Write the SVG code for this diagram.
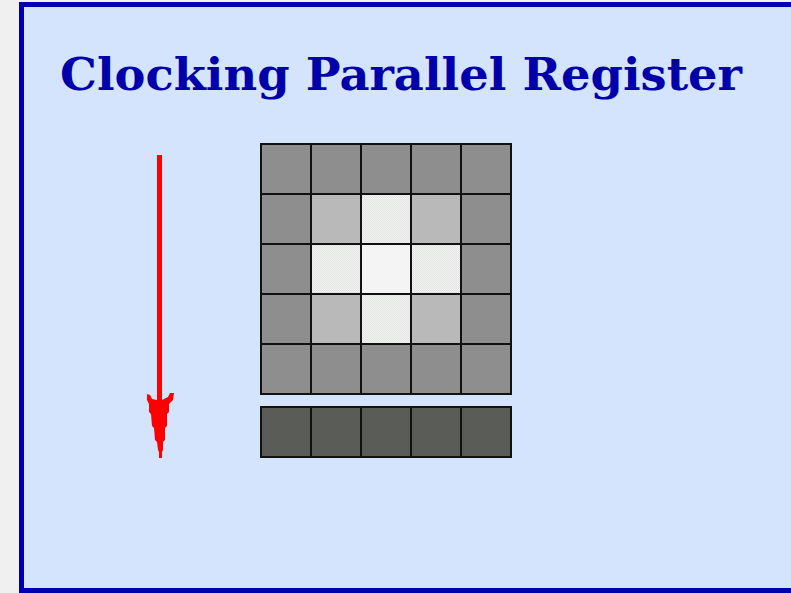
<svg xmlns="http://www.w3.org/2000/svg" width="791" height="593" viewBox="0 0 791 593">
<defs>
<style>
.cell{stroke:#111;stroke-width:2}
.o{fill:#8e8e8e}
.m{fill:#b9b9b9}
.x{fill:url(#dither)}
.c{fill:#f4f4f4}
.b{fill:#5a5c57}
.title{font-family:"DejaVu Serif","Liberation Serif",serif;font-weight:bold;font-size:45px;fill:#0000aa}
</style>
<pattern id="dither" width="2" height="2" patternUnits="userSpaceOnUse">
<rect width="2" height="2" fill="#f2f2f2"/>
<rect width="1" height="1" fill="#e2e4e2"/>
<rect x="1" y="1" width="1" height="1" fill="#e2e4e2"/>
</pattern>
</defs>
<rect width="791" height="593" fill="#f0f0f0"/>
<rect x="21.5" y="4.5" width="780" height="586" fill="#d4e4fc" stroke="#0000b0" stroke-width="5"/>
<g id="title"><text class="title" x="60" y="90" textLength="682" lengthAdjust="spacingAndGlyphs">Clocking Parallel Register</text></g>
<g id="register">
<rect class="cell o" x="261" y="144" width="50" height="50"/>
<rect class="cell o" x="311" y="144" width="50" height="50"/>
<rect class="cell o" x="361" y="144" width="50" height="50"/>
<rect class="cell o" x="411" y="144" width="50" height="50"/>
<rect class="cell o" x="461" y="144" width="50" height="50"/>
<rect class="cell o" x="261" y="194" width="50" height="50"/>
<rect class="cell m" x="311" y="194" width="50" height="50"/>
<rect class="cell x" x="361" y="194" width="50" height="50"/>
<rect class="cell m" x="411" y="194" width="50" height="50"/>
<rect class="cell o" x="461" y="194" width="50" height="50"/>
<rect class="cell o" x="261" y="244" width="50" height="50"/>
<rect class="cell x" x="311" y="244" width="50" height="50"/>
<rect class="cell c" x="361" y="244" width="50" height="50"/>
<rect class="cell x" x="411" y="244" width="50" height="50"/>
<rect class="cell o" x="461" y="244" width="50" height="50"/>
<rect class="cell o" x="261" y="294" width="50" height="50"/>
<rect class="cell m" x="311" y="294" width="50" height="50"/>
<rect class="cell x" x="361" y="294" width="50" height="50"/>
<rect class="cell m" x="411" y="294" width="50" height="50"/>
<rect class="cell o" x="461" y="294" width="50" height="50"/>
<rect class="cell o" x="261" y="344" width="50" height="50"/>
<rect class="cell o" x="311" y="344" width="50" height="50"/>
<rect class="cell o" x="361" y="344" width="50" height="50"/>
<rect class="cell o" x="411" y="344" width="50" height="50"/>
<rect class="cell o" x="461" y="344" width="50" height="50"/>
</g>
<g id="serial-register">
<rect class="cell b" x="261" y="407" width="50" height="50"/>
<rect class="cell b" x="311" y="407" width="50" height="50"/>
<rect class="cell b" x="361" y="407" width="50" height="50"/>
<rect class="cell b" x="411" y="407" width="50" height="50"/>
<rect class="cell b" x="461" y="407" width="50" height="50"/>
</g>
<g id="connectors">
<line x1="159.5" y1="155" x2="159.5" y2="400" stroke="#ff0000" stroke-width="5"/>
<polygon points="147,394 150,395 152,399 157,400 162,400 168,397 170,393 174,393 173,400 169,404 169,412 167,414 167,426 165,428 165,440 163,442 163,450 162,452 162,458 159,458 159,452 158,450 157,442 155,440 154,428 152,426 151,414 149,412 149,404 147,400" fill="#ff0000"/>
</g>
</svg>
